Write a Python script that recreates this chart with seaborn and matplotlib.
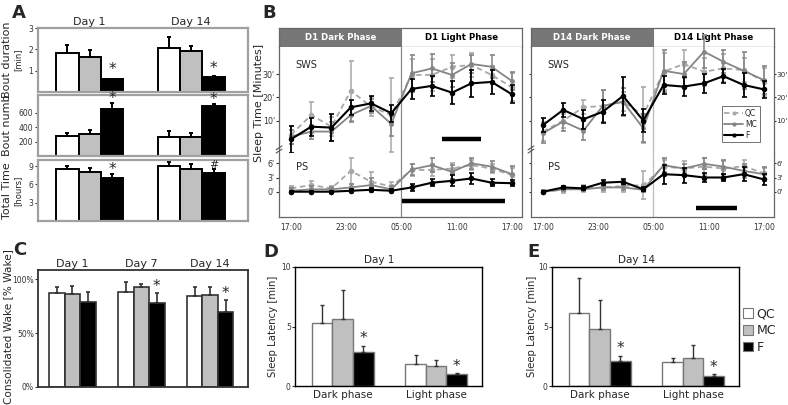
import numpy as np
import pandas as pd
import matplotlib
matplotlib.use('Agg')
import matplotlib.pyplot as plt
import seaborn as sns
from matplotlib.patches import Rectangle, Patch
from matplotlib.lines import Line2D

sns.set_style("white")
plt.rcParams['font.family'] = ['DejaVu Sans']

W, H = 788, 405

# ---------------- data ----------------
groups = ['QC', 'MC', 'F']
bar_colors = ['white', '#c0c0c0', 'black']

# Panel A
a_days = ['Day 1', 'Day 14']
a_dur = {'QC': [1.85, 2.05], 'MC': [1.65, 1.92], 'F': [0.62, 0.68]}
a_dur_err = {'QC': [0.33, 0.52], 'MC': [0.30, 0.22], 'F': [0.0, 0.07]}
a_num = {'QC': [280, 270], 'MC': [300, 270], 'F': [660, 700]}
a_num_err = {'QC': [45, 80], 'MC': [60, 50], 'F': [80, 30]}
a_tot = {'QC': [8.6, 9.0], 'MC': [8.0, 8.6], 'F': [7.0, 7.9]}
a_tot_err = {'QC': [0.4, 0.6], 'MC': [0.7, 0.8], 'F': [0.7, 0.7]}

# Panel B
b_hours = [0, 2.2, 4.4, 6.5, 8.7, 10.9, 13.1, 15.3, 17.5, 19.6, 21.8, 24.0]
b_ticks = [0, 6, 12, 18, 24]
b_ticklabels = ['17:00', '23:00', '05:00', '11:00', '17:00']

d1_sws = {'QC': [3.9, 12.4, 7.4, 22.8, 16.0, 12.4, 29.6, 29.6, 33.1, 33.9, 29.6, 24.3],
          'MC': [3.1, 5.3, 5.3, 12.4, 16.3, 8.6, 30.3, 32.4, 29.6, 34.3, 33.1, 27.0],
          'F': [2.0, 7.4, 7.0, 15.7, 17.4, 13.2, 23.6, 24.9, 22.0, 26.0, 26.6, 21.3]}
d1_sws_err = {'QC': [4, 5.5, 4, 13, 4, 16, 7, 7, 5, 5, 4, 6],
              'MC': [3, 3, 4, 3, 3, 5, 8, 6, 5, 4, 5, 4],
              'F': [5.7, 3.9, 5.7, 3.2, 3.3, 3.6, 4.3, 4.3, 5, 5.7, 5, 3.9]}
d1_ps = {'QC': [0.7, 1.4, 0.7, 4.4, 2.1, 1.1, 4.6, 4.6, 4.9, 5.6, 4.9, 3.5],
         'MC': [0.2, 0.5, 0.5, 0.9, 1.4, 0.5, 4.7, 5.6, 4.2, 6.0, 5.3, 3.7],
         'F': [0, 0, 0, 0.2, 0.4, 0.2, 0.9, 1.9, 2.3, 2.8, 1.9, 1.8]}
d1_ps_err = {'QC': [0.5, 0.8, 0.5, 2.8, 2.0, 1.0, 1.2, 1.2, 1.2, 1.0, 1.0, 1.5],
             'MC': [0.5, 0.7, 0.5, 0.8, 1.5, 0.6, 1.2, 1.5, 1.5, 1.2, 1.2, 1.8],
             'F': [0.2, 0.2, 0.2, 0.3, 0.3, 0.3, 0.7, 0.7, 1.2, 1.2, 0.8, 0.6]}

d14_sws = {'QC': [5.3, 10.0, 15.7, 16.3, 18.1, 12.4, 31.0, 34.3, 31.0, 32.4, 31.7, 26.7],
           'MC': [4.6, 9.6, 5.7, 16.3, 18.1, 6.7, 31.4, 30.0, 39.6, 35.3, 31.4, 27.4],
           'F': [8.1, 14.6, 10.6, 13.8, 20.6, 10.0, 25.3, 24.6, 26.0, 29.1, 25.3, 23.4]}
d14_sws_err = {'QC': [4, 3, 3, 7, 4, 12, 8, 6, 6, 6, 5, 6],
               'MC': [4, 4, 4, 7, 6, 6, 9, 5, 7, 5, 8, 6],
               'F': [3, 3, 4, 5, 8, 5, 4, 4, 4, 3, 5, 3.5]}
d14_ps = {'QC': [0, 0.4, 0.7, 0.9, 1.2, 1.4, 5.3, 4.9, 5.3, 4.9, 5.4, 3.9],
          'MC': [0, 0.5, 0.5, 0.9, 0.9, 0.4, 5.6, 4.9, 5.9, 5.3, 4.4, 3.7],
          'F': [0, 0.9, 0.7, 1.9, 2.1, 0.5, 3.7, 3.5, 3.0, 3.0, 3.7, 2.6]}
d14_ps_err = {'QC': [0.3, 0.6, 0.8, 1.0, 1.2, 3.0, 1.5, 1.5, 1.8, 1.5, 1.2, 1.2],
              'MC': [0.3, 0.4, 0.4, 0.5, 0.5, 0.5, 1.5, 1.0, 1.2, 1.5, 1.5, 1.5],
              'F': [0.2, 0.4, 0.4, 0.5, 0.5, 0.4, 2.0, 1.6, 1.0, 0.8, 1.5, 1.2]}

# significance bars (start hour, end hour, level)
d1_sws_sig = [16.4, 20.7, 2.3]
d1_ps_sig = [12.1, 23.2, -1.9]
d14_ps_sig = [16.6, 21.1, -3.4]

# Panel C
c_days = ['Day 1', 'Day 7', 'Day 14']
c_wake = {'QC': [87.5, 88.5, 84.4], 'MC': [86.3, 92.5, 85.1], 'F': [79.1, 77.6, 69.3]}
c_wake_err = {'QC': [5.0, 8.7, 8.1], 'MC': [7.5, 2.8, 7.4], 'F': [9.4, 9.9, 11.4]}

# Panels D / E
phases = ['Dark phase', 'Light phase']
d_lat = {'QC': [5.28, 1.89], 'MC': [5.65, 1.69], 'F': [2.88, 0.99]}
d_lat_err = {'QC': [1.5, 0.71], 'MC': [2.4, 0.49], 'F': [0.48, 0.11]}
e_lat = {'QC': [6.16, 2.02], 'MC': [4.82, 2.35], 'F': [2.13, 0.84]}
e_lat_err = {'QC': [2.92, 0.33], 'MC': [2.38, 1.12], 'F': [0.39, 0.14]}

line_style = {'QC': dict(color='#a8a8a8', ls=(0, (3, 2)), lw=1.3, ms=4),
              'MC': dict(color='#858585', ls='-', lw=1.3, ms=3.5),
              'F': dict(color='black', ls='-', lw=1.5, ms=4)}


def rect(l, t, r, b):
    return [l / W, 1 - b / H, (r - l) / W, (b - t) / H]


def bar_chart(ax, cats, vals, errs, width, edge, lw, ecolor):
    rows = []
    for g in groups:
        for c, v in zip(cats, vals[g]):
            rows.append({'cat': c, 'grp': g, 'val': v})
    df = pd.DataFrame(rows)
    sns.barplot(data=df, x='cat', y='val', hue='grp', order=cats, hue_order=groups,
                palette=dict(zip(groups, bar_colors)), saturation=1, width=width,
                edgecolor=edge, linewidth=lw, errorbar=None, legend=False, ax=ax)
    tops = {}
    conts = list(ax.containers)
    for g, cont in zip(groups, conts):
        for j, p in enumerate(cont):
            x = p.get_x() + p.get_width() / 2
            ax.errorbar(x, vals[g][j], yerr=[[0], [errs[g][j]]], fmt='none', ecolor=ecolor,
                        elinewidth=lw, capsize=1.5, capthick=lw)
            tops[(g, j)] = (x, vals[g][j] + errs[g][j])
    ax.set_xlabel('')
    ax.set_ylabel('')
    return tops


def star(ax, tops, key, off, sym='*', size=11):
    x, y = tops[key]
    ax.text(x, y + off, sym, ha='center', va='center', fontsize=size, clip_on=False)


fig = plt.figure(figsize=(W / 100, H / 100), dpi=100)

# ---------------- Panel A ----------------
a_specs = [(a_dur, a_dur_err, (0, 3), [1, 2, 3], 28, 92),
           (a_num, a_num_err, (0, 850), [200, 400, 600], 95, 156),
           (a_tot, a_tot_err, (0, 10), [3, 6, 9], 160, 221)]
a_axes = []
for vals, errs, ylim, yt, t, b in a_specs:
    ax = fig.add_axes(rect(38, t, 248, b))
    tops = bar_chart(ax, a_days, vals, errs, 0.66, 'black', 1.4, 'black')
    ax.set_xlim(-0.51, 1.56)
    ax.set_ylim(*ylim)
    ax.set_yticks(yt)
    ax.set_xticks([])
    ax.tick_params(axis='y', labelsize=5.5, length=2, pad=1.5, colors='#333333', left=True)
    for s in ax.spines.values():
        s.set_color('#a0a0a0')
        s.set_linewidth(1.6)
    a_axes.append((ax, tops))

ax, tops = a_axes[0]
star(ax, tops, ('F', 0), 0.42)
star(ax, tops, ('F', 1), 0.35)
ax.text(0, 3.05, 'Day 1', ha='center', va='bottom', fontsize=8)
ax.text(1, 3.05, 'Day 14', ha='center', va='bottom', fontsize=8)
ax, tops = a_axes[1]
star(ax, tops, ('F', 0), 55)
star(ax, tops, ('F', 1), 55)
ax, tops = a_axes[2]
star(ax, tops, ('F', 0), 0.7)
star(ax, tops, ('F', 1), 0.6, sym='#', size=8)

fig.text(7 / W, 1 - 60 / H, 'Bout duration', rotation=90, ha='center', va='center', fontsize=8)
fig.text(18 / W, 1 - 60 / H, '[min]', rotation=90, ha='center', va='center', fontsize=6)
fig.text(7 / W, 1 - 125 / H, 'Bout numb', rotation=90, ha='center', va='center', fontsize=8)
fig.text(7 / W, 1 - 191 / H, 'Total Time', rotation=90, ha='center', va='center', fontsize=8)
fig.text(18 / W, 1 - 191 / H, '[hours]', rotation=90, ha='center', va='center', fontsize=6)


# ---------------- Panel B ----------------
def time_panel(left, dark_title, light_title, sws, sws_err, ps, ps_err, right_labels, vcol):
    right = left + 243
    xl = (-1.3, 25.1)
    axh = fig.add_axes(rect(left, 28, right, 47))
    axs = fig.add_axes(rect(left, 47, right, 153))
    axp = fig.add_axes(rect(left, 153, right, 217))
    axh.set_xlim(*xl)
    axh.set_ylim(0, 1)
    axh.add_patch(Rectangle((xl[0], 0), 12 - xl[0], 1, facecolor='#777777', edgecolor='none'))
    axh.axvline(12, color='#777777', lw=0.8)
    axh.text((xl[0] + 12) / 2, 0.48, dark_title, color='white', fontweight='bold',
             ha='center', va='center', fontsize=6.2)
    axh.text((12 + xl[1]) / 2, 0.48, light_title, color='black', fontweight='bold',
             ha='center', va='center', fontsize=6.2)
    axh.set_xticks([])
    axh.set_yticks([])
    for s in axh.spines.values():
        s.set_color('#666666')
        s.set_linewidth(0.9)

    for ax, data, err, ylim, yt in [(axs, sws, sws_err, (-3.9, 41.6), [10, 20, 30]),
                                     (axp, ps, ps_err, (-5.35, 8.18), [0, 3, 6])]:
        for g in groups:
            st = line_style[g]
            sns.lineplot(x=b_hours, y=data[g], ax=ax, color=st['color'], linestyle=st['ls'],
                         lw=st['lw'], marker='o', markersize=st['ms'], markeredgewidth=0,
                         zorder=3 if g == 'F' else 2)
            ax.errorbar(b_hours, data[g], yerr=err[g], fmt='none', ecolor=st['color'],
                        elinewidth=1.3 if g == 'F' else 1.1, capsize=1.8, capthick=1.2,
                        clip_on=False, zorder=3 if g == 'F' else 2)
        ax.axvline(12, color=vcol, lw=0.9, zorder=1)
        ax.set_xlim(*xl)
        ax.set_ylim(*ylim)
        ax.set_yticks(yt)
        ax.set_yticklabels([f"{v}'" for v in yt])
        if right_labels:
            ax.tick_params(axis='y', left=True, right=True, labelleft=False, labelright=True,
                           labelsize=5.2, length=1.5, pad=0.3, colors='#333333')
        else:
            ax.tick_params(axis='y', left=True, labelsize=5.8, length=2, pad=1, colors='#333333')
        for s in ax.spines.values():
            s.set_color('#666666')
            s.set_linewidth(0.9)
    axs.spines['bottom'].set_visible(False)
    axs.spines['top'].set_visible(False)
    axp.spines['top'].set_visible(False)
    axs.set_xticks([])
    axp.set_xticks(b_ticks)
    axp.set_xticklabels(b_ticklabels)
    axp.tick_params(axis='x', labelsize=5.5, length=0, pad=4, colors='#333333')

    axs.text(0.5, 34, 'SWS', fontsize=7, ha='left', va='center')
    axp.text(0.5, 5.2, 'PS', fontsize=7, ha='left', va='center')

    # axis break marks
    for dy in (0.0, 0.05):
        axp.plot([-0.012, 0.012], [1.0 + dy, 1.06 + dy], transform=axp.transAxes,
                 color='#555555', lw=0.8, clip_on=False)
    return axh, axs, axp


_, axs1, axp1 = time_panel(279, 'D1 Dark Phase', 'D1 Light Phase', d1_sws, d1_sws_err,
                           d1_ps, d1_ps_err, False, '#888888')
axs1.plot([d1_sws_sig[0], d1_sws_sig[1]], [d1_sws_sig[2]] * 2, color='black', lw=3.2,
          solid_capstyle='butt')
axp1.plot([d1_ps_sig[0], d1_ps_sig[1]], [d1_ps_sig[2]] * 2, color='black', lw=3.2,
          solid_capstyle='butt', clip_on=False)
_, axs2, axp2 = time_panel(531, 'D14 Dark Phase', 'D14 Light Phase', d14_sws, d14_sws_err,
                           d14_ps, d14_ps_err, True, '#bbbbbb')
axp2.plot([d14_ps_sig[0], d14_ps_sig[1]], [d14_ps_sig[2]] * 2, color='black', lw=3.2,
          solid_capstyle='butt')

b_handles = [Line2D([], [], color=line_style[g]['color'], ls=line_style[g]['ls'],
                    lw=line_style[g]['lw'], marker='o', ms=3, mew=0) for g in groups]
leg = axs2.legend(b_handles, groups, loc='lower left', bbox_to_anchor=(0.785, 0.1),
                  fontsize=5.5, frameon=True, fancybox=False, handlelength=2.4,
                  handletextpad=0.3, borderpad=0.35, labelspacing=0.25, borderaxespad=0)
leg.get_frame().set_edgecolor('#333333')
leg.get_frame().set_linewidth(0.6)

fig.text(259 / W, 1 - 103 / H, 'Sleep Time [Minutes]', rotation=90, ha='center', va='center',
         fontsize=8)

# ---------------- Panel C ----------------
axc = fig.add_axes(rect(38, 270, 248, 387))
tops = bar_chart(axc, c_days, c_wake, c_wake_err, 0.675, '#333333', 1.2, '#333333')
axc.set_xlim(-0.5, 2.55)
axc.set_ylim(0, 108.7)
axc.set_yticks([0, 50, 100])
axc.set_yticklabels(['0%', '50%', '100%'])
axc.set_xticks([])
axc.tick_params(axis='y', labelsize=5.5, length=2, pad=1, colors='#333333', left=True)
for s in axc.spines.values():
    s.set_color('#333333')
    s.set_linewidth(1.3)
for j, d in enumerate(c_days):
    axc.text(j, 109.5, d, ha='center', va='bottom', fontsize=8)
star(axc, tops, ('F', 1), 6)
star(axc, tops, ('F', 2), 6)
fig.text(8 / W, 1 - 327 / H, 'Consolidated Wake [% Wake]', rotation=90, ha='center',
         va='center', fontsize=7.6)


# ---------------- Panels D / E ----------------
def latency_panel(l, r, vals, errs, title, ylabel_x):
    ax = fig.add_axes(rect(l, 267, r, 386))
    tops = bar_chart(ax, phases, vals, errs, 0.66, '#777777', 1.0, '#333333')
    ax.set_xlim(-0.51, 1.49)
    ax.set_ylim(0, 10)
    ax.set_yticks([0, 5, 10])
    ax.tick_params(axis='y', labelsize=5.5, length=2, pad=1, colors='#333333', left=True)
    ax.tick_params(axis='x', labelsize=7.5, length=0, pad=3)
    for s in ax.spines.values():
        s.set_color('black')
        s.set_linewidth(1.0)
    ax.text(0.45, 1.015, title, transform=ax.transAxes, ha='center', va='bottom', fontsize=7.5)
    star(ax, tops, ('F', 0), 0.6)
    star(ax, tops, ('F', 1), 0.55)
    fig.text(ylabel_x / W, 1 - 326 / H, 'Sleep Latency [min]', rotation=90, ha='center',
             va='center', fontsize=7.3)
    return ax


axd = latency_panel(295, 482, d_lat, d_lat_err, 'Day 1', 273)
axe = latency_panel(552, 739, e_lat, e_lat_err, 'Day 14', 532)
e_handles = [Patch(facecolor=c, edgecolor='#777777', lw=0.8) for c in bar_colors]
axe.legend(e_handles, groups, loc='upper left', bbox_to_anchor=(1.02, 0.66), fontsize=9,
           frameon=False, handlelength=0.8, handleheight=0.8, handletextpad=0.3,
           labelspacing=0.3, borderaxespad=0, borderpad=0)

# panel letters
for letter, x, y in [('A', 12, 4), ('B', 262, 4), ('C', 13, 241), ('D', 263, 243), ('E', 527, 243)]:
    fig.text(x / W, 1 - y / H, letter, fontsize=13, fontweight='bold', va='top', ha='left')

fig.savefig('out.png', dpi=100)
